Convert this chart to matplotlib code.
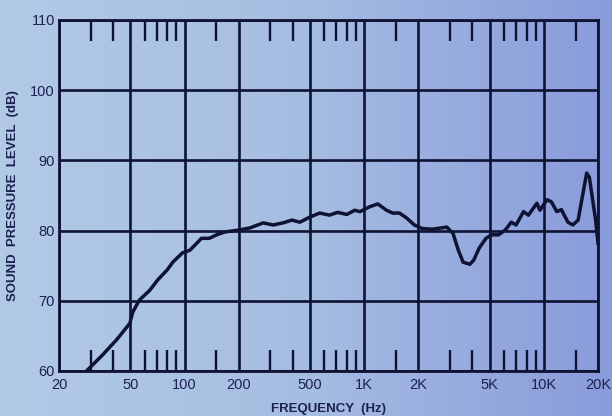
import numpy as np
import matplotlib
matplotlib.use("Agg")
import matplotlib.pyplot as plt
from matplotlib.colors import LinearSegmentedColormap
from matplotlib.ticker import FixedLocator, NullFormatter

# Frequency response data (Hz, dB SPL)
freq_hz = [28.7, 35, 42, 49.6, 51.5, 56, 64, 71, 80, 86, 97, 107, 117, 124, 137,
           151, 167, 203, 232, 274, 311, 353, 396, 438, 496, 565, 640, 710, 800,
           886, 946, 1072, 1190, 1330, 1440, 1570, 1720, 1900, 2100, 2400, 2880,
           3120, 3340, 3550, 3870, 4070, 4360, 4760, 5120, 5590, 6100, 6580, 7000,
           7700, 8200, 9140, 9500, 10400, 11000, 11800, 12500, 13600, 14500,
           15500, 17300, 17900, 19400, 20000]
spl_db = [60.1, 62.3, 64.5, 66.8, 68.4, 70.1, 71.5, 73.0, 74.4, 75.5, 76.8, 77.2,
          78.2, 78.9, 78.9, 79.4, 79.8, 80.1, 80.4, 81.1, 80.8, 81.1, 81.5, 81.2,
          81.9, 82.5, 82.2, 82.6, 82.3, 82.9, 82.7, 83.4, 83.8, 82.9, 82.5, 82.5,
          81.8, 80.8, 80.3, 80.2, 80.5, 79.6, 77.2, 75.5, 75.2, 75.8, 77.5, 78.9,
          79.4, 79.4, 80.1, 81.2, 80.8, 82.7, 82.2, 83.9, 82.9, 84.4, 84.1, 82.7,
          83.0, 81.2, 80.8, 81.5, 88.2, 87.6, 81.5, 78.2]

x_major = [20, 50, 100, 200, 500, 1000, 2000, 5000, 10000, 20000]
x_major_labels = ["20", "50", "100", "200", "500", "1K", "2K", "5K", "10K", "20K"]
x_minor = [30, 40, 60, 70, 80, 90, 150, 300, 400, 600, 700, 800, 900,
           1500, 3000, 4000, 6000, 7000, 8000, 9000, 15000]
y_major = [60, 70, 80, 90, 100, 110]

ink = "#0e1233"
txt = "#1b2150"

fig = plt.figure(figsize=(6.12, 4.16), dpi=100)

# background gradient (paper colour)
bg = fig.add_axes([0, 0, 1, 1], zorder=-10)
bg.axis("off")
cmap = LinearSegmentedColormap.from_list("paper", ["#b2cae6", "#a6bde2", "#899bdb"])
grad = np.linspace(0, 1, 256).reshape(1, -1)
bg.imshow(grad, aspect="auto", cmap=cmap, extent=[0, 1, 0, 1])

ax = fig.add_axes([59 / 612, 1 - 371 / 416, (598 - 59) / 612, (371 - 20) / 416])
ax.patch.set_alpha(0)
ax.set_xscale("log")
ax.set_xlim(20, 20000)
ax.set_ylim(60, 110)

# grid
for xv in x_major:
    ax.axvline(xv, color=ink, lw=1.9, zorder=1)
for yv in y_major:
    ax.axhline(yv, color=ink, lw=1.9, zorder=1)

ax.plot(freq_hz, spl_db, color=ink, lw=2.5, solid_joinstyle="round", zorder=3,
        clip_on=False)

ax.xaxis.set_major_locator(FixedLocator(x_major))
ax.set_xticklabels(x_major_labels)
ax.xaxis.set_minor_locator(FixedLocator(x_minor))
ax.xaxis.set_minor_formatter(NullFormatter())
ax.yaxis.set_major_locator(FixedLocator(y_major))
ax.set_yticklabels([str(v) for v in y_major])

ax.tick_params(axis="x", which="major", length=0, pad=5, labelsize=10.5, labelcolor=txt)
ax.tick_params(axis="x", which="minor", direction="in", length=15, width=1.7,
               color=ink, top=True, bottom=True)
ax.tick_params(axis="y", which="both", length=0, pad=3, labelsize=10.5, labelcolor=txt)
for lab in ax.get_xticklabels() + ax.get_yticklabels():
    lab.set_fontfamily("Liberation Sans")

for s in ax.spines.values():
    s.set_color(ink)
    s.set_linewidth(2.0)

ax.set_xlabel("FREQUENCY  (Hz)", fontsize=9.5, fontweight="bold", color=txt,
              family="Liberation Sans", labelpad=8)
ax.set_ylabel("SOUND  PRESSURE  LEVEL  (dB)", fontsize=9.5, fontweight="bold",
              color=txt, family="Liberation Sans", labelpad=8)

fig.savefig("out.png", dpi=100)
